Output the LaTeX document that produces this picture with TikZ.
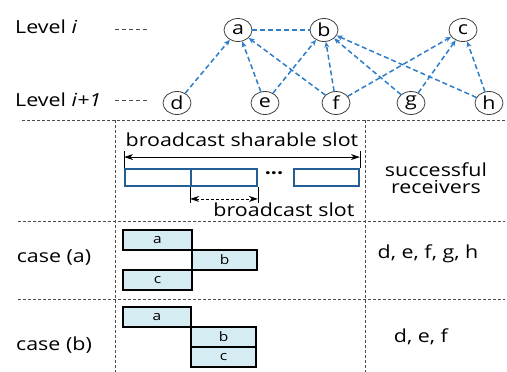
\documentclass[tikz,border=0pt]{standalone}
\usepackage{fontspec}
\setmainfont{Open Sans}[FakeStretch=1.19]
\usetikzlibrary{shapes.geometric,arrows.meta,positioning,calc}
\definecolor{linkblue}{RGB}{45,125,200}
\definecolor{slotblue}{RGB}{35,95,150}
\definecolor{boxfill}{RGB}{212,236,242}
\tikzset{
  vert/.style={ellipse,draw=black!75,line width=0.8pt,minimum width=28pt,minimum height=23pt,inner sep=0pt,font=\fontsize{18}{20}\selectfont},
  link/.style={linkblue,line width=1.5pt,dash pattern=on 5pt off 3pt},
  uplink/.style={link,-{Stealth[length=6pt,width=5pt]}},
  sep/.style={black!70,line width=0.8pt,dash pattern=on 3pt off 2pt},
  slotbox/.style={draw=slotblue,line width=1.8pt,minimum height=17pt,inner sep=0pt},
  txbox/.style={draw=black,fill=boxfill,line width=1.4pt,minimum height=20pt,inner sep=0pt,font=\fontsize{13}{14}\selectfont},
  lbl/.style={font=\fontsize{18}{20}\selectfont,inner sep=0pt}
}

\begin{document}
\begin{tikzpicture}[x=1pt,y=-1pt]
  \useasboundingbox (0,0) rectangle (507,372);

  % Levels
  \node[lbl,anchor=west] (lvtop) at (15,27) {Level \textit{i}};
  \node[lbl,anchor=west] (lvbot) at (15,100) {Level \textit{i+1}};
  \draw[sep,dash pattern=on 4pt off 3pt] (115,29) -- (148,29);
  \draw[sep,dash pattern=on 4pt off 3pt] (115,100) -- (148,100);

  % Parents
  \node[vert] (a) at (238,30) {a};
  \node[vert] (b) at (324,30) {b};
  \node[vert] (c) at (463,30) {c};

  % Children
  \node[vert] (d) at (177,103) {d};
  \node[vert] (e) at (265,103) {e};
  \node[vert] (f) at (336,103) {f};
  \node[vert] (g) at (411,103) {g};
  \node[vert] (h) at (489,103) {h};

  % Links
  \draw[link] (a) -- (b);
  \draw[uplink] (d) -- (a);
  \draw[uplink] (e) -- (a);
  \draw[uplink] (f) -- (a);
  \draw[uplink] (e) -- (b);
  \draw[uplink] (f) -- (b);
  \draw[uplink] (g) -- (b);
  \draw[uplink] (h) -- (b);
  \draw[uplink] (f) -- (c);
  \draw[uplink] (g) -- (c);
  \draw[uplink] (h) -- (c);

  % Table lines
  \draw[sep] (22,120) -- (505,120);
  \draw[sep] (18,221) -- (505,221);
  \draw[sep] (18,299) -- (505,299);
  \draw[sep] (115,120) -- (115,372);
  \draw[sep] (365,120) -- (365,372);

  % Slots
  \node[slotbox,minimum width=66pt] (s1) at (158,177.5) {};
  \node[slotbox,minimum width=66pt] (s2) at (224,177.5) {};
  \node[slotbox,minimum width=65pt] (s3) at (326.5,177.5) {};
  \node[lbl] (dots) at (274,176) {\textbf{···}};

  \node[lbl] (sharable) at (242,140) {broadcast sharable slot};
  \coordinate (shl) at ($(s1.north west)+(0,-11)$);
  \coordinate (shr) at ($(s3.north east)+(0,-11)$);
  \draw (s1.north west) -- ++(0,-17);
  \draw (s3.north east) -- ++(0,-17);
  \draw[{Stealth[length=9pt,width=6pt]}-{Stealth[length=9pt,width=6pt]},line width=0.8pt] (shl) -- (shr);

  \coordinate (bsl) at ($(s2.south west)+(0,12)$);
  \coordinate (bsr) at ($(s2.south east)+(0,12)$);
  \draw (s2.south west) -- ++(0,16);
  \draw (s2.south east) -- ++(0,16);
  \draw[{Stealth[length=9pt,width=6pt]}-{Stealth[length=9pt,width=6pt]},line width=0.8pt,dash pattern=on 3pt off 2pt] (bsl) -- (bsr);
  \node[lbl] (single) at (284,210) {broadcast slot};

  \node[lbl,align=center,font=\fontsize{18}{17}\selectfont] (recv) at (436,178) {successful\\receivers};

  % case (a)
  \node[lbl] (casea) at (54,257) {case (a)};
  \node[txbox,minimum width=69pt] (aa) at (157.5,240) {a};
  \node[txbox,minimum width=65pt] (ab) at (224.5,260) {b};
  \node[txbox,minimum width=69pt] (ac) at (157.5,280) {c};
  \node[lbl] (recva) at (428,254) {d, e, f, g, h};

  % case (b)
  \node[lbl] (caseb) at (54,345) {case (b)};
  \node[txbox,minimum width=68pt] (ba) at (157,317) {a};
  \node[txbox,minimum width=65pt] (bb) at (223.5,337) {b};
  \node[txbox,minimum width=65pt] (bc) at (223.5,357) {c};
  \node[lbl] (recvb) at (421,337) {d, e, f};
\end{tikzpicture}
\end{document}
